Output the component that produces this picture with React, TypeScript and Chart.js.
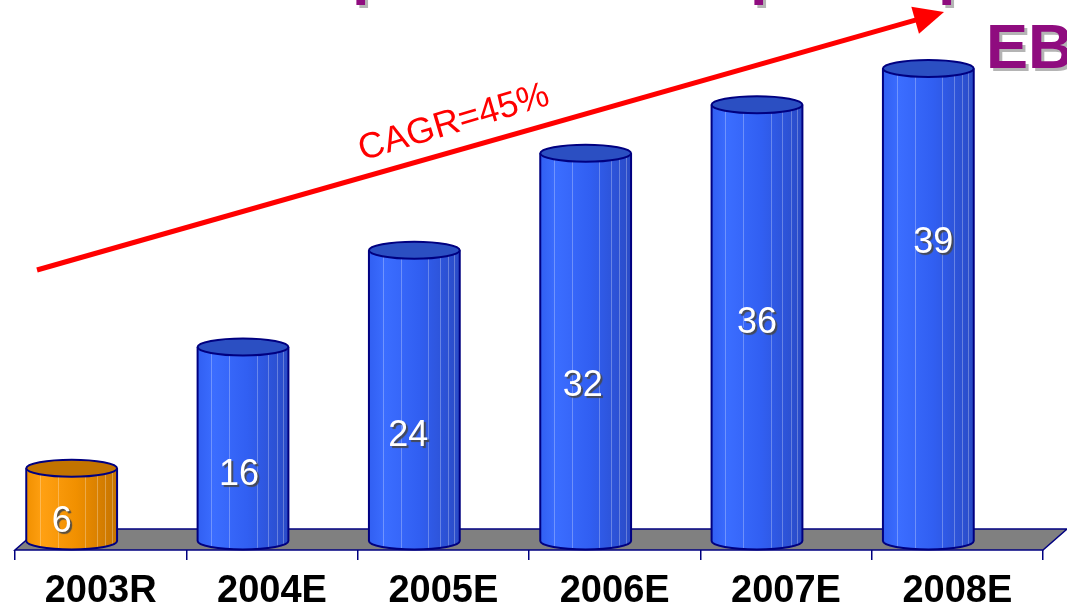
import React, { useEffect, useRef } from "react";
import { Chart, registerables } from "chart.js";

Chart.register(...registerables);

// ---- data -------------------------------------------------------------
const years = ["2003R", "2004E", "2005E", "2006E", "2007E", "2008E"];
const ebitda = [6, 16, 24, 32, 36, 39];
const isActual = [true, false, false, false, false, false];
const growthLabel = "CAGR=45%";
const headingText = "EBITDA";

// placement of the value labels: share of the column height, sideways nudge
const labelRise = [0.26, 0.34, 0.36, 0.4, 0.5, 0.63];
const labelNudge = [-10, -4, -6, -3, 0, 5];

// ---- styling ----------------------------------------------------------
const W = 1067;
const H = 611;
const AXIS_HEIGHT = 61;
const FONT = '"Liberation Sans", Arial, sans-serif';
const NAVY = "#000080";
const PURPLE = "#8f0c7f";
const DEPTH = { x: 24, y: -21 };
const COLUMN_SHIFT = -29;
const CAP_RY = 8.5;
const FACETS = [0.15, 0.35, 0.65, 0.78, 0.87, 0.94];

const palette = {
  blue: { light: "#3b6dff", mid: "#315ff2", dark: "#2a4bc6", cap: "#2b4fc2" },
  orange: { light: "#ffa012", mid: "#f19000", dark: "#c57300", cap: "#c27300" },
};

// grey platform the columns stand on
const floorPlugin = {
  id: "floor",
  beforeDatasetsDraw(chart: any) {
    const { ctx, chartArea } = chart;
    const { left, right, bottom } = chartArea;
    ctx.save();
    ctx.beginPath();
    ctx.moveTo(left, bottom);
    ctx.lineTo(right, bottom);
    ctx.lineTo(right + DEPTH.x, bottom + DEPTH.y);
    ctx.lineTo(left + DEPTH.x, bottom + DEPTH.y);
    ctx.closePath();
    ctx.fillStyle = "#808080";
    ctx.fill();
    ctx.strokeStyle = NAVY;
    ctx.lineWidth = 1.5;
    ctx.stroke();
    ctx.restore();
  },
};

// cylinders built on the bar elements, plus their value labels
const cylinderPlugin = {
  id: "cylinders",
  afterDatasetsDraw(chart: any) {
    const { ctx } = chart;
    const meta = chart.getDatasetMeta(0);
    meta.data.forEach((el: any, i: number) => {
      const { x, y, base, width } = el.getProps(["x", "y", "base", "width"], true);
      const cx = x + COLUMN_SHIFT;
      const rx = width / 2;
      const l = cx - rx;
      const r = cx + rx;
      const c = isActual[i] ? palette.orange : palette.blue;

      const body = new Path2D();
      body.moveTo(l, y);
      body.lineTo(l, base);
      body.ellipse(cx, base, rx, CAP_RY, 0, Math.PI, 0, true);
      body.lineTo(r, y);
      body.closePath();

      const g = ctx.createLinearGradient(l, 0, r, 0);
      g.addColorStop(0, c.mid);
      g.addColorStop(0.18, c.light);
      g.addColorStop(0.55, c.mid);
      g.addColorStop(1, c.dark);

      ctx.save();
      ctx.fillStyle = g;
      ctx.fill(body);

      // faint facet lines running down the column
      ctx.save();
      ctx.clip(body);
      ctx.strokeStyle = "rgba(255,255,255,0.28)";
      ctx.lineWidth = 1;
      FACETS.forEach((f) => {
        const fx = Math.round(l + f * width) + 0.5;
        ctx.beginPath();
        ctx.moveTo(fx, y);
        ctx.lineTo(fx, base + CAP_RY);
        ctx.stroke();
      });
      ctx.restore();

      ctx.strokeStyle = NAVY;
      ctx.lineWidth = 2;
      ctx.beginPath();
      ctx.moveTo(l, y);
      ctx.lineTo(l, base);
      ctx.ellipse(cx, base, rx, CAP_RY, 0, Math.PI, 0, true);
      ctx.lineTo(r, y);
      ctx.stroke();

      ctx.beginPath();
      ctx.ellipse(cx, y, rx, CAP_RY, 0, 0, Math.PI * 2);
      ctx.fillStyle = c.cap;
      ctx.fill();
      ctx.stroke();

      // value label
      const ly = base - labelRise[i] * (base - y);
      ctx.font = `36px ${FONT}`;
      ctx.textAlign = "center";
      ctx.textBaseline = "middle";
      ctx.shadowColor = "rgba(70,70,70,0.9)";
      ctx.shadowOffsetX = 2;
      ctx.shadowOffsetY = 2;
      ctx.shadowBlur = 1;
      ctx.fillStyle = "#ffffff";
      ctx.fillText(String(ebitda[i]), cx + labelNudge[i], ly);
      ctx.restore();
    });
  },
};

// growth arrow, its caption and the heading line at the top
const overlayPlugin = {
  id: "overlay",
  afterDraw(chart: any) {
    const { ctx } = chart;
    ctx.save();

    // heading, partly outside the canvas
    ctx.font = `bold 63px ${FONT}`;
    ctx.textBaseline = "alphabetic";
    ctx.textAlign = "left";
    const heading = (t: string, hx: number, hy: number) => {
      ctx.fillStyle = "#b4b4b4";
      ctx.fillText(t, hx + 3, hy + 3);
      ctx.fillStyle = PURPLE;
      ctx.fillText(t, hx, hy);
    };
    [352, 750, 938].forEach((px) => heading("p", px, -8));
    heading(headingText, 986, 68);

    // arrow
    const start = { x: 37, y: 270 };
    const tip = { x: 944, y: 12 };
    const ang = Math.atan2(tip.y - start.y, tip.x - start.x);
    const headLen = 30;
    const headHalf = 14;
    const bx = tip.x - headLen * Math.cos(ang);
    const by = tip.y - headLen * Math.sin(ang);
    ctx.strokeStyle = "#ff0000";
    ctx.fillStyle = "#ff0000";
    ctx.lineWidth = 5;
    ctx.lineCap = "butt";
    ctx.beginPath();
    ctx.moveTo(start.x, start.y);
    ctx.lineTo(bx + 2 * Math.cos(ang), by + 2 * Math.sin(ang));
    ctx.stroke();
    ctx.beginPath();
    ctx.moveTo(tip.x, tip.y);
    ctx.lineTo(bx + headHalf * Math.sin(ang), by - headHalf * Math.cos(ang));
    ctx.lineTo(bx - headHalf * Math.sin(ang), by + headHalf * Math.cos(ang));
    ctx.closePath();
    ctx.fill();

    // caption along the arrow
    ctx.translate(454, 123);
    ctx.rotate((-16.5 * Math.PI) / 180);
    ctx.font = `36px ${FONT}`;
    ctx.textAlign = "center";
    ctx.textBaseline = "middle";
    ctx.fillStyle = "#ff0000";
    ctx.fillText(growthLabel, 0, 0);
    ctx.restore();
  },
};

export default function App() {
  const ref = useRef<HTMLCanvasElement | null>(null);

  useEffect(() => {
    if (!ref.current) return;
    const chart = new Chart(ref.current, {
      type: "bar",
      data: {
        labels: years,
        datasets: [
          {
            data: ebitda,
            backgroundColor: "rgba(0,0,0,0)",
            borderWidth: 0,
            barPercentage: 0.53,
            categoryPercentage: 1,
          },
        ],
      },
      options: {
        animation: false,
        responsive: false,
        events: [],
        layout: { padding: { top: 20, left: 15, right: 24, bottom: 0 } },
        plugins: {
          legend: { display: false },
          tooltip: { enabled: false },
          title: { display: false },
        },
        scales: {
          x: {
            offset: true,
            afterFit(scale: any) {
              scale.height = AXIS_HEIGHT;
            },
            grid: {
              display: true,
              offset: true,
              drawOnChartArea: false,
              drawTicks: true,
              tickLength: 10,
              color: NAVY,
              lineWidth: 1.5,
            },
            border: { display: false },
            ticks: {
              color: "#000000",
              padding: 13,
              maxRotation: 0,
              autoSkip: false,
              font: { family: FONT, size: 38, weight: "bold", lineHeight: 1 },
            },
          },
          y: { display: false, min: -0.75, max: 43 },
        },
      },
      plugins: [floorPlugin, cylinderPlugin, overlayPlugin],
    });
    return () => chart.destroy();
  }, []);

  return (
    <div style={{ position: "fixed", left: 0, top: 0, width: W, height: H, background: "#ffffff" }}>
      <canvas ref={ref} width={W} height={H} style={{ display: "block" }} />
    </div>
  );
}
